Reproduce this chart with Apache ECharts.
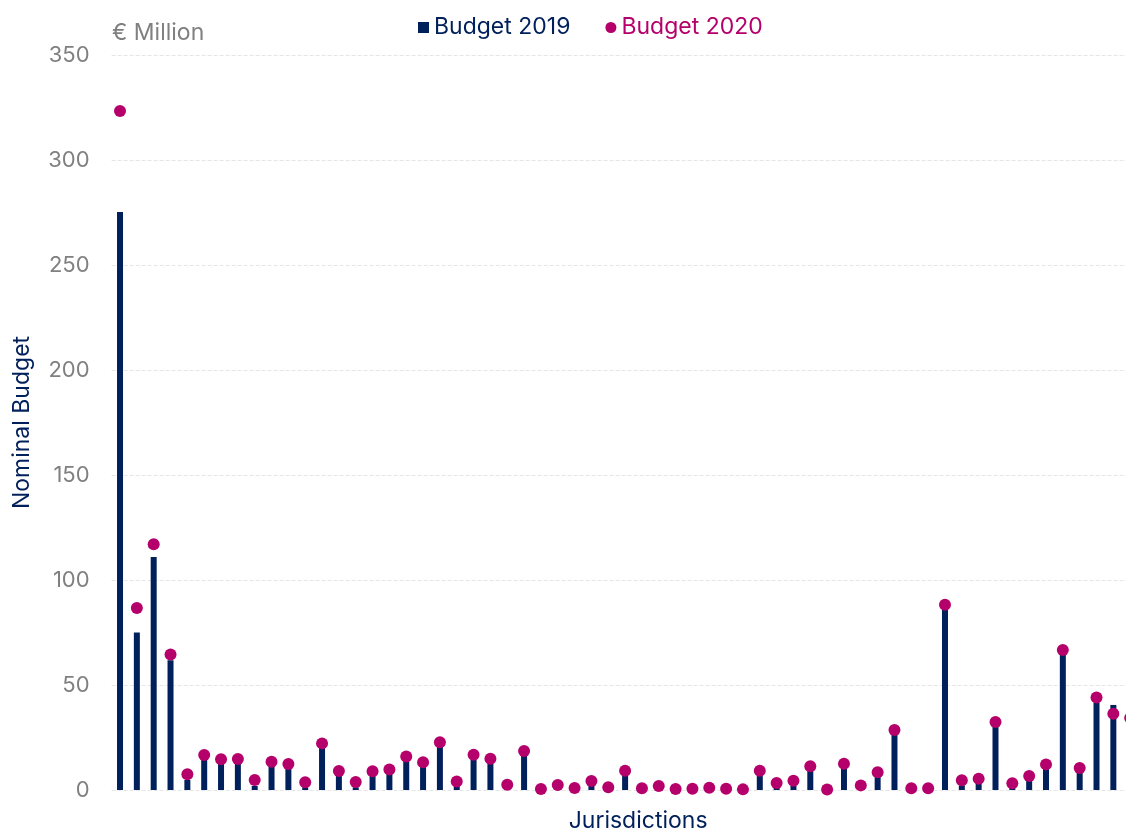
<!DOCTYPE html>
<html>
<head>
<meta charset="utf-8">
<script src="https://cdn.jsdelivr.net/npm/echarts@6/dist/echarts.min.js"></script>
<style>
  html, body { margin: 0; padding: 0; background: #fff; overflow: hidden; }
  #chart { width: 1126px; height: 829px; overflow: hidden; }
</style>
</head>
<body>
<div id="chart"></div>
<script>
// jurisdictions (not labelled in the original)
const jurisdictions = [
  'J1','J2','J3','J4','J5','J6','J7','J8','J9','J10',
  'J11','J12','J13','J14','J15','J16','J17','J18','J19','J20',
  'J21','J22','J23','J24','J25','J26','J27','J28','J29','J30',
  'J31','J32','J33','J34','J35','J36','J37','J38','J39','J40',
  'J41','J42','J43','J44','J45','J46','J47','J48','J49','J50',
  'J51','J52','J53','J54','J55','J56','J57','J58','J59','J60','J61'
];

// € million
const budget2019 = [
  275.2, 75, 111, 61.8, 4.8, 14.3, 12.7, 12.7, 1.9, 11.4,
  10.3, 1.3, 20.2, 6.7, 1.3, 6.7, 7.6, 13.8, 11.1, 20.6,
  1.9, 14.6, 12.7, 1, 16.2, 0, 0.5, 0, 1.9, 0,
  7, 0, 0, 0, 0, 0, 0, 0, 7, 1,
  1.9, 9, 0, 10.3, 0, 6.2, 26.3, 0, 0, 86.7,
  2.2, 3.5, 30.2, 1, 4.4, 10, 64.4, 8.3, 41.7, 40.5, 32
];

const budget2020 = [
  323.3, 86.7, 117, 64.5, 7.5, 16.7, 14.6, 14.8, 4.8, 13.5,
  12.4, 3.7, 22.2, 9, 3.8, 8.9, 9.8, 16, 13.2, 22.7,
  4, 16.8, 14.9, 2.5, 18.6, 0.5, 2.4, 1, 4.3, 1.3,
  9.2, 0.8, 1.9, 0.5, 0.6, 1.1, 0.6, 0.3, 9.2, 3.3,
  4.4, 11.3, 0.2, 12.5, 2.2, 8.4, 28.6, 0.8, 0.8, 88.2,
  4.6, 5.4, 32.4, 3.2, 6.7, 12.2, 66.7, 10.5, 44, 36.3, 34.3
];

const navy = '#00205B';
const magenta = '#B5006B';
const grey = '#808080';
const font = 'Inter, "Noto Sans", sans-serif';

const chart = echarts.init(document.getElementById('chart'));

chart.setOption({
  animation: false,
  textStyle: { fontFamily: font },
  title: {
    text: '€ Million',
    left: 107,
    top: 17,
    textStyle: { color: grey, fontSize: 23, fontWeight: 'normal', fontFamily: font }
  },
  legend: {
    left: 413,
    top: 11,
    itemWidth: 11,
    itemHeight: 11,
    itemGap: 35,
    data: [
      { name: 'Budget 2019', icon: 'rect', textStyle: { color: navy } },
      { name: 'Budget 2020', icon: 'circle', textStyle: { color: magenta } }
    ],
    textStyle: { fontSize: 23, fontFamily: font }
  },
  // plot runs past the right edge, as in the original
  grid: { left: 111.6, top: 55, width: 1027, height: 735, outerBoundsMode: 'none' },
  xAxis: {
    type: 'category',
    data: jurisdictions,
    name: 'Jurisdictions',
    nameLocation: 'middle',
    nameGap: 20,
    nameTextStyle: { color: navy, fontSize: 23, fontFamily: font, padding: [0, 0, 0, 26] },
    axisLine: { show: false },
    axisTick: { show: false },
    axisLabel: { show: false }
  },
  yAxis: {
    type: 'value',
    min: 0,
    max: 350,
    interval: 50,
    name: 'Nominal Budget',
    nameLocation: 'middle',
    nameGap: 78,
    nameTextStyle: { color: navy, fontSize: 23, fontFamily: font },
    axisLabel: { color: grey, fontSize: 22, margin: 22, fontFamily: font },
    axisLine: { show: false },
    axisTick: { show: false },
    splitLine: { lineStyle: { color: '#e6e6e6', type: 'dashed', width: 1 } }
  },
  series: [
    {
      name: 'Budget 2019',
      type: 'bar',
      data: budget2019,
      barWidth: 6,
      itemStyle: { color: navy }
    },
    {
      name: 'Budget 2020',
      type: 'scatter',
      data: budget2020,
      symbol: 'circle',
      symbolSize: 12,
      z: 5,
      itemStyle: { color: magenta, opacity: 1 }
    }
  ]
});
</script>
</body>
</html>
